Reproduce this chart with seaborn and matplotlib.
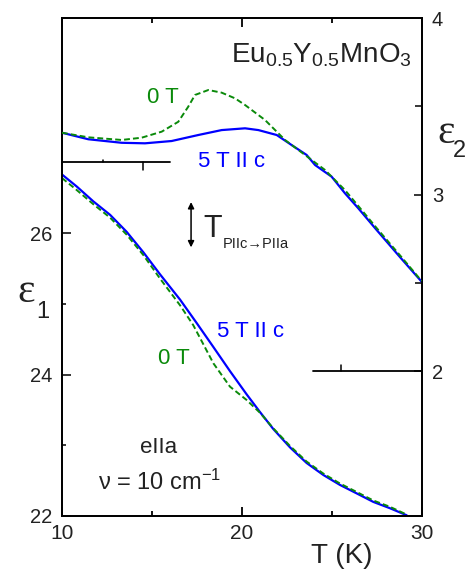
import numpy as np
import pandas as pd
import matplotlib
matplotlib.use("Agg")
import matplotlib.pyplot as plt
import seaborn as sns

# ---------------- data ----------------
# eps1 (left axis), 5 T || c (blue, solid)
t_e1_5T = [10.0, 10.82, 11.74, 12.67, 13.59, 14.52, 15.44, 16.56, 17.48, 18.41, 19.33,
           20.26, 21.0, 21.74, 22.67, 23.59, 24.52, 25.44, 26.37, 27.29, 28.22, 29.15]
e1_5T   = [26.83, 26.66, 26.45, 26.26, 26.02, 25.73, 25.42, 25.06, 24.73, 24.39, 24.05,
           23.72, 23.47, 23.23, 22.97, 22.75, 22.58, 22.44, 22.32, 22.20, 22.11, 22.01]
# eps1, 0 T (green, dashed)
t_e1_0T = [10.0, 10.82, 11.74, 12.67, 13.59, 14.52, 15.44, 16.56, 17.29, 18.41, 19.33,
           20.26, 21.0, 21.74, 22.67, 23.59, 24.52, 25.44, 26.37, 27.29, 28.22, 29.15]
e1_0T   = [26.78, 26.61, 26.41, 26.22, 25.98, 25.69, 25.36, 24.98, 24.70, 24.16, 23.83,
           23.64, 23.46, 23.24, 22.99, 22.77, 22.60, 22.46, 22.34, 22.22, 22.13, 22.02]
# eps2 (right axis), 5 T || c (blue, solid)
t_e2_5T = [10.0, 11.46, 13.32, 14.61, 16.09, 17.57, 18.87, 20.17, 20.91, 21.93, 22.76,
           23.59, 24.06, 24.98, 25.72, 26.46, 27.48, 28.78, 29.98]
e2_5T   = [3.350, 3.313, 3.293, 3.290, 3.303, 3.337, 3.365, 3.375, 3.365, 3.337, 3.280,
           3.224, 3.167, 3.101, 3.007, 2.922, 2.799, 2.645, 2.506]
# eps2, 0 T (green, dashed)
t_e2_0T = [10.0, 11.46, 13.32, 14.43, 15.54, 16.46, 17.01, 17.39, 18.13, 18.87, 19.61,
           20.17, 21.28, 22.39, 23.5, 24.61, 25.72, 26.46, 27.48, 28.78, 29.98]
e2_0T   = [3.35, 3.324, 3.309, 3.322, 3.356, 3.412, 3.497, 3.564, 3.592, 3.577, 3.545,
           3.507, 3.422, 3.309, 3.224, 3.139, 3.025, 2.935, 2.81, 2.655, 2.51]

x_major = [10, 20, 30]
x_minor = [15, 25]
y1_major = [22, 24, 26]
y1_minor = [23, 25]
y2_major = [2, 3, 4]
y2_minor = [2.5, 3.5]

BLUE = "#0000ff"
GREEN = "#0a8a0a"

# ---------------- style ----------------
sns.set_style("ticks")
plt.rcParams["font.family"] = ["Liberation Sans", "DejaVu Sans"]
plt.rcParams["mathtext.fontset"] = "custom"
plt.rcParams["mathtext.rm"] = "Liberation Sans"
plt.rcParams["mathtext.it"] = "Liberation Sans:italic"
plt.rcParams["mathtext.bf"] = "Liberation Sans:bold"

fig = plt.figure(figsize=(4.68, 5.71), dpi=100)
W, H = 468, 571
L, R, T_, B = 62, 422, 18, 516
ax1 = fig.add_axes([L / W, 1 - B / H, (R - L) / W, (B - T_) / H])
ax2 = ax1.twinx()

df1a = pd.DataFrame({"T": t_e1_0T, "e": e1_0T})
df1b = pd.DataFrame({"T": t_e1_5T, "e": e1_5T})
df2a = pd.DataFrame({"T": t_e2_0T, "e": e2_0T})
df2b = pd.DataFrame({"T": t_e2_5T, "e": e2_5T})

dash = (0, (3.0, 1.6))
sns.lineplot(data=df1a, x="T", y="e", ax=ax1, color=GREEN, linewidth=1.4,
             linestyle=dash, legend=False, zorder=3)
sns.lineplot(data=df1b, x="T", y="e", ax=ax1, color=BLUE, linewidth=1.6,
             legend=False, zorder=2)
sns.lineplot(data=df2a, x="T", y="e", ax=ax2, color=GREEN, linewidth=1.4,
             linestyle=dash, legend=False, zorder=3)
sns.lineplot(data=df2b, x="T", y="e", ax=ax2, color=BLUE, linewidth=1.6,
             legend=False, zorder=2)

ax1.set_xlim(10, 30)
ax1.set_ylim(22, 22 + (B - T_) / 70.7)
ax2.set_ylim(4 - (B - T_) / 176.5, 4)

ax1.set_xlabel("")
ax1.set_ylabel("")
ax2.set_ylabel("")

for ax in (ax1, ax2):
    for s in ax.spines.values():
        s.set_linewidth(1.3)
        s.set_color("black")

ax1.set_xticks(x_major)
ax1.set_xticks(x_minor, minor=True)
ax1.set_yticks(y1_major)
ax1.set_yticks(y1_minor, minor=True)
ax2.set_yticks(y2_major)
ax2.set_yticks(y2_minor, minor=True)

ax1.tick_params(axis="x", which="both", direction="in", top=True, bottom=True,
                width=1.3, labelsize=15, pad=6, colors="black", labelcolor="#222222")
ax1.tick_params(axis="x", which="major", length=6.5)
ax1.tick_params(axis="x", which="minor", length=3.6)
ax1.tick_params(axis="y", which="both", direction="in", left=True, right=False,
                width=1.3, labelsize=14.5, pad=7, labelcolor="#222222")
ax1.tick_params(axis="y", which="major", length=6.5)
ax1.tick_params(axis="y", which="minor", length=3.2)
ax2.tick_params(axis="y", which="both", direction="in", right=True, left=False,
                width=1.3, labelsize=14.5, pad=7, labelcolor="#222222")
ax2.tick_params(axis="y", which="major", length=6)
ax2.tick_params(axis="y", which="minor", length=5)

# partial inner axis lines
ax1.axhline(27, xmin=0, xmax=(170 - L) / (R - L), color="black", lw=1.3, zorder=1)
ax1.plot([14.48, 14.48], [27, 26.90], color="black", lw=1.1)
ax1.plot([12.28, 12.28], [27, 27.035], color="black", lw=1.1)
ax2.axhline(2, xmin=(313 - L) / (R - L), xmax=1, color="black", lw=1.3, zorder=1)
ax2.plot([25.48, 25.48], [2, 2.034], color="black", lw=1.1)

# annotations (ax1 data coords)
ax1.text(29.44, 28.42, r"Eu$_{\mathregular{0.5}}$Y$_{\mathregular{0.5}}$MnO$_{\mathregular{3}}$",
         ha="right", va="baseline", fontsize=20, color="#222222")
ax1.text(14.72, 27.84, "0 T", color=GREEN, fontsize=16, ha="left", va="baseline")
ax1.text(17.56, 26.94, "5 T II c", color=BLUE, fontsize=16, ha="left", va="baseline")
ax1.text(18.61, 24.53, "5 T II c", color=BLUE, fontsize=16, ha="left", va="baseline")
ax1.text(15.33, 24.15, "0 T", color=GREEN, fontsize=16, ha="left", va="baseline")
ax1.annotate("", xy=(17.17, 26.44), xytext=(17.17, 25.80),
             arrowprops=dict(arrowstyle="<|-|>", color="black", lw=1.1,
                             mutation_scale=9, shrinkA=0, shrinkB=0))
ax1.text(17.83, 25.95, "T", fontsize=22, ha="left", va="baseline", color="#222222")
ax1.text(18.93, 25.79, "PIIc\u2192PIIa", fontsize=10.5, ha="left", va="baseline",
         color="#222222")
ax1.text(14.33, 22.89, "eIIa", fontsize=16, ha="left", va="baseline", color="#222222")
ax1.text(12.0, 22.37, "\u03bd = 10 cm$^{\\mathregular{-1}}$",
         fontsize=17, ha="left", va="baseline", color="#222222")

# axis labels
fig.text(341.5 / W, 1 - 563 / H, "T (K)", fontsize=20, ha="center", va="baseline",
         color="#222222")
fig.text(17 / W, 1 - 302 / H, "\u03b5", fontsize=30, ha="left", va="baseline",
         family=["Liberation Serif", "DejaVu Serif"], color="#222222")
fig.text(36 / W, 1 - 318 / H, "1", fontsize=17, ha="left", va="baseline", color="#222222")
fig.text(437 / W, 1 - 143 / H, "\u03b5", fontsize=30, ha="left", va="baseline",
         family=["Liberation Serif", "DejaVu Serif"], color="#222222")
fig.text(453 / W, 1 - 157 / H, "2", fontsize=17, ha="left", va="baseline", color="#222222")

fig.savefig("out.png", dpi=100)
